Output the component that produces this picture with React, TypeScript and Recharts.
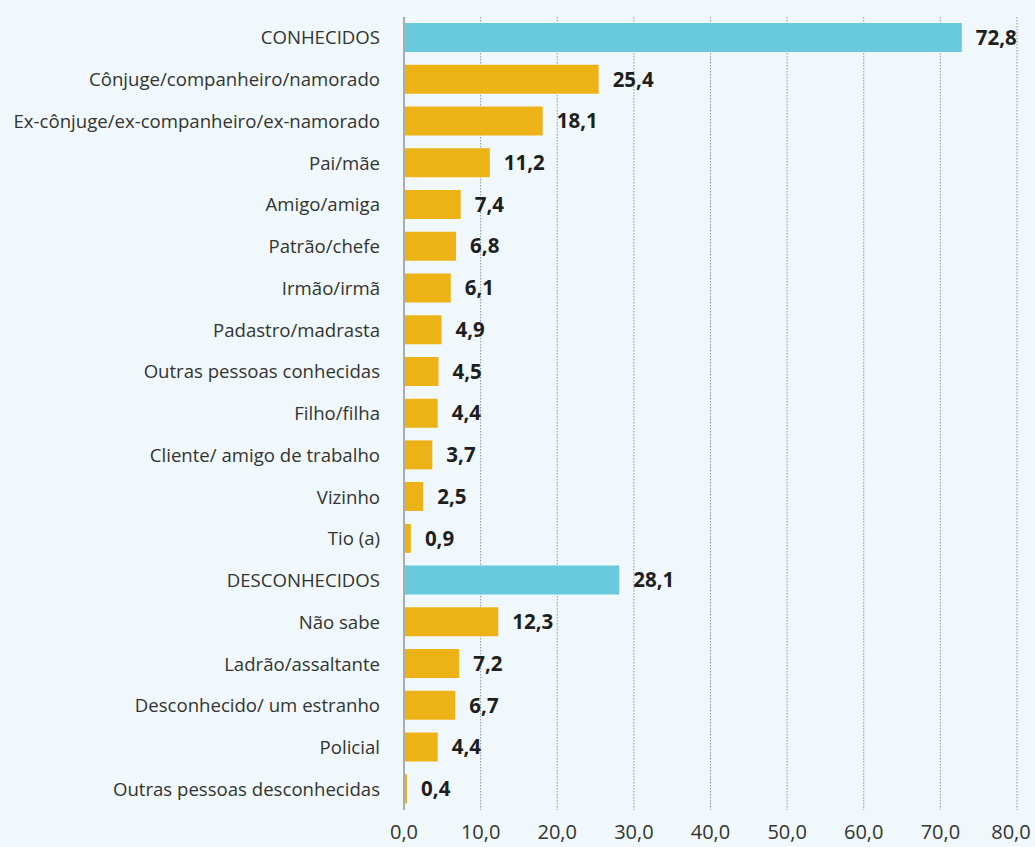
import { BarChart, Bar, XAxis, YAxis, CartesianGrid, Cell, LabelList } from "recharts";

// Autores de agressão, % das vítimas
const CATEGORIES = [
  "CONHECIDOS",
  "Cônjuge/companheiro/namorado",
  "Ex-cônjuge/ex-companheiro/ex-namorado",
  "Pai/mãe",
  "Amigo/amiga",
  "Patrão/chefe",
  "Irmão/irmã",
  "Padastro/madrasta",
  "Outras pessoas conhecidas",
  "Filho/filha",
  "Cliente/ amigo de trabalho",
  "Vizinho",
  "Tio (a)",
  "DESCONHECIDOS",
  "Não sabe",
  "Ladrão/assaltante",
  "Desconhecido/ um estranho",
  "Policial",
  "Outras pessoas desconhecidas",
];
const VALUES = [72.8, 25.4, 18.1, 11.2, 7.4, 6.8, 6.1, 4.9, 4.5, 4.4, 3.7, 2.5, 0.9, 28.1, 12.3, 7.2, 6.7, 4.4, 0.4];
const GROUP_ROWS = ["CONHECIDOS", "DESCONHECIDOS"];
const X_TICKS = [0, 10, 20, 30, 40, 50, 60, 70, 80];

const CYAN = "#69c9dd";
const GOLD = "#edb316";
const FONT = "'Open Sans', 'Noto Sans', sans-serif";

const fmt = (v: number) => v.toFixed(1).replace(".", ",");

// last tick sits at the right edge, pull it in a little so it isn't clipped
function XTick(props: any) {
  const { x, y, payload } = props;
  const last = payload.value === X_TICKS[X_TICKS.length - 1];
  return (
    <text x={x - (last ? 6 : 0)} y={y} dy="0.71em" textAnchor="middle" fill="#333" fontSize={20} fontFamily={FONT}>
      {fmt(payload.value)}
    </text>
  );
}

export default function App() {
  const data = CATEGORIES.map((name, i) => ({ name, value: VALUES[i] }));
  return (
    <div style={{ position: "fixed", left: 0, top: 0, width: 1035, height: 847, background: "#f0f8fb", overflow: "hidden" }}>
      <BarChart
        width={1035}
        height={847}
        data={data}
        layout="vertical"
        margin={{ top: 17, right: 18, bottom: 0, left: 0 }}
        barCategoryGap={12}
      >
        <CartesianGrid horizontal={false} vertical stroke="#8f9599" strokeDasharray="1.5 1.5" />
        <XAxis
          type="number"
          domain={[0, 80]}
          ticks={X_TICKS}
          axisLine={false}
          tickLine={false}
          tickSize={0}
          tickMargin={15}
          height={37}
          interval={0}
          tick={<XTick />}
        />
        <YAxis
          type="category"
          dataKey="name"
          width={404}
          axisLine={{ stroke: "#a7adb0", strokeWidth: 2 }}
          tickLine={false}
          tickSize={0}
          tickMargin={24}
          interval={0}
          tick={{ fill: "#333", fontSize: 18.6, fontFamily: FONT }}
        />
        <Bar dataKey="value" barSize={29} isAnimationActive={false}>
          {data.map((d) => (
            <Cell key={d.name} fill={GROUP_ROWS.includes(d.name) ? CYAN : GOLD} />
          ))}
          <LabelList
            dataKey="value"
            position="right"
            offset={14}
            formatter={(v: number) => fmt(v)}
            style={{ fill: "#1e1e1e", fontSize: 20.5, fontWeight: 700, fontFamily: FONT }}
          />
        </Bar>
      </BarChart>
    </div>
  );
}
